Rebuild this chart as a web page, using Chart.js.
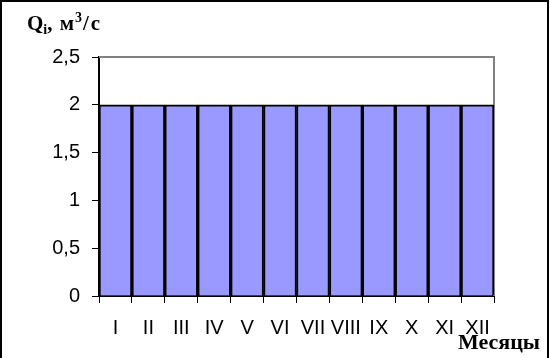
<!DOCTYPE html>
<html lang="ru">
  <head>
    <meta charset="UTF-8" />
    <title>Qi</title>
    <style>
      body { margin: 0; background: #fff; }
      #wrap { width: 550px; height: 358px; }
    </style>
  </head>
  <script src="https://cdn.jsdelivr.net/npm/chart.js@4/dist/chart.umd.min.js"></script>

  <body>
    <div id="wrap"><canvas id="myChart" width="550" height="358"></canvas></div>
    <script>
      const months = ["I", "II", "III", "IV", "V", "VI", "VII", "VIII", "IX", "X", "XI", "XII"];
      const flow = [2, 2, 2, 2, 2, 2, 2, 2, 2, 2, 2, 2];
      const yTicks = [0, 0.5, 1, 1.5, 2, 2.5];

      // frame, plot border and axis captions
      const decor = {
        id: "decor",
        beforeDatasetsDraw(chart) {
          const c = chart.ctx;
          const a = chart.chartArea;
          c.save();
          c.strokeStyle = "#808080";
          c.lineWidth = 2;
          c.beginPath();
          c.moveTo(a.left, a.top);
          c.lineTo(a.right, a.top);
          c.lineTo(a.right, a.bottom);
          c.stroke();
          c.restore();
        },
        afterDraw(chart) {
          const c = chart.ctx;
          c.save();
          c.strokeStyle = "#000";
          c.lineWidth = 2;
          c.beginPath();
          c.moveTo(1, 358);
          c.lineTo(1, 1);
          c.lineTo(548, 1);
          c.lineTo(548, 358);
          c.stroke();

          c.fillStyle = "#000";
          c.textBaseline = "alphabetic";
          const big = "bold 21px 'Liberation Serif'";
          const small = "bold 14px 'Liberation Serif'";
          c.font = big;
          c.fillText("Q", 27, 30);
          let x = 27 + c.measureText("Q").width;
          c.font = small;
          c.fillText("i", x, 34);
          x += c.measureText("i").width;
          c.font = big;
          c.fillText(",", x, 30);
          x += c.measureText(", ").width + 2;
          c.fillText("м", x, 30);
          x += c.measureText("м").width + 1;
          c.font = small;
          c.fillText("3", x, 22);
          x += c.measureText("3").width + 1;
          c.font = big;
          c.fillText("/", x, 30);
          x += c.measureText("/").width + 2;
          c.fillText("с", x, 30);

          c.font = "bold 22px 'Liberation Serif'";
          c.fillText("Месяцы", 458, 349);
          c.restore();
        },
      };

      new Chart(document.getElementById("myChart"), {
        type: "bar",
        data: {
          labels: months,
          datasets: [
            {
              data: flow,
              backgroundColor: "#9999FF",
              borderColor: "#000",
              borderWidth: 2,
              categoryPercentage: 1,
              barPercentage: 1,
            },
          ],
        },
        options: {
          responsive: false,
          animation: false,
          layout: { padding: { left: 0, right: 56, top: 57, bottom: 0 } },
          plugins: { legend: { display: false }, tooltip: { enabled: false } },
          scales: {
            x: {
              afterFit(s) { s.height = 62; },
              grid: { offset: true, drawOnChartArea: false, color: "#000", tickLength: 7 },
              border: { color: "#000", width: 2 },
              ticks: { color: "#000", font: { family: "Liberation Sans", size: 20 }, padding: 13, maxRotation: 0, autoSkip: false },
            },
            y: {
              min: 0,
              max: 2.5,
              afterFit(s) { s.width = 99; },
              afterBuildTicks(s) { s.ticks = yTicks.map((v) => ({ value: v })); },
              grid: { drawOnChartArea: false, color: "#000", tickLength: 7 },
              border: { color: "#000", width: 2 },
              ticks: {
                color: "#000",
                font: { family: "Liberation Sans", size: 20 },
                padding: 12,
                callback: (v) => String(v).replace(".", ","),
              },
            },
          },
        },
        plugins: [decor],
      });
    </script>
  </body>
</html>
